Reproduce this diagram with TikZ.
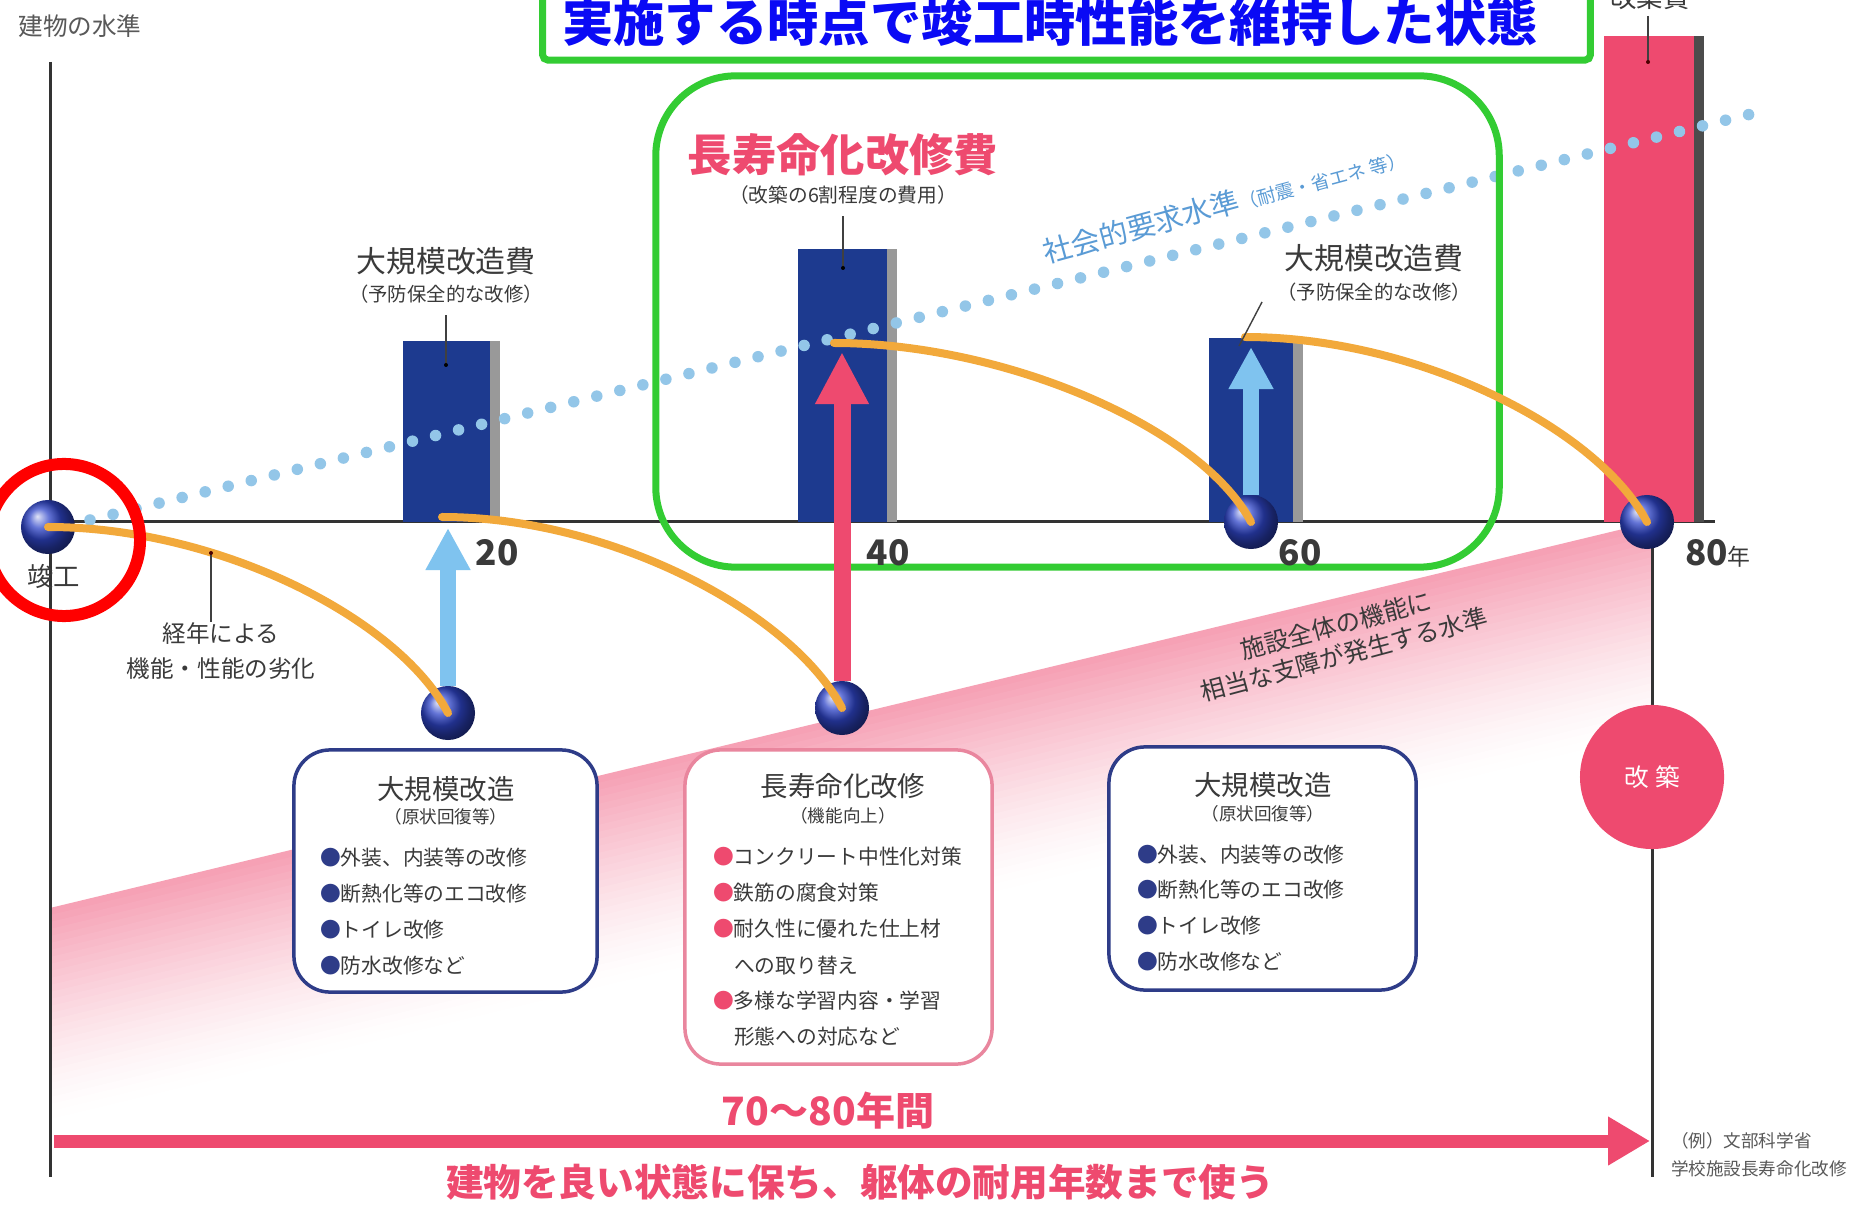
\documentclass[tikz,border=0pt]{standalone}
\usepackage{fontspec}
\setmainfont{Noto Sans CJK JP}
\usetikzlibrary{arrows.meta,shadings}
\definecolor{navy}{HTML}{1D3A8F}
\definecolor{boxnavy}{HTML}{2E3C88}
\definecolor{crimson}{HTML}{EE4A6F}
\definecolor{boxpink}{HTML}{E9869E}
\definecolor{lblue}{HTML}{7FC3EF}
\definecolor{curveor}{HTML}{F2A93B}
\definecolor{dotblue}{HTML}{93C6E8}
\definecolor{socblue}{HTML}{5A9BD5}
\definecolor{grn}{HTML}{33CC33}
\definecolor{txtgray}{HTML}{3A3A3A}
\definecolor{wedge}{HTML}{F27C98}
\definecolor{titleblue}{HTML}{0A0AF5}
\definecolor{ballblue}{HTML}{2F45C8}
\newcommand\fsz[2]{\fontsize{#1}{#2}\selectfont}
\newcommand\bn{\textcolor{boxnavy}{●}}
\newcommand\bp{\textcolor{crimson}{●}}
\begin{document}
\begin{tikzpicture}[x=0.01cm,y=-0.01cm,
  every node/.style={inner sep=0pt,outer sep=0pt},
  bar/.style 2 args={anchor=south west,minimum width=#1,minimum height=#2},
  sphere/.style={circle,minimum size=0.54cm,ball color=ballblue},
  degr/.style={draw=curveor,line width=0.08cm,line cap=round},
  upblue/.style={draw=lblue,line width=0.16cm,-{Triangle[width=0.42cm,length=0.42cm]}},
  upred/.style={draw=crimson,line width=0.17cm,-{Triangle[width=0.5cm,length=0.52cm]}},
  leader/.style={draw=black!75,line width=0.4pt},
  infobox/.style={draw=#1,line width=0.035cm,rounded corners=0.36cm,fill=white},
  boxline/.style={anchor=west,text=txtgray,font=\fsz{5.9}{7}},
  boxttl/.style={text=txtgray,font=\fsz{7.8}{9}},
  boxsub/.style={text=txtgray,font=\fsz{5}{6}},
  axisline/.style={draw=black!80,line width=0.03cm},
  shadowstrip/.style={fill=black!40},
]
\useasboundingbox (0,0) rectangle (1874,1210);
\fill[white] (0,0) rectangle (1874,1210);

% pink wedge (level of serious trouble)
\foreach \i in {0,...,29}{
  \pgfmathsetmacro\da{\i*7}
  \pgfmathsetmacro\db{\i*7+7.6}
  \pgfmathsetmacro\pc{72*(1-\i/30)^1.4}
  \fill[wedge!\pc!white] (50,908+\da) -- (1652,522+\da) -- (1652,522+\db) -- (50,908+\db) -- cycle;
}

% axes
\coordinate (Ytop) at (50,62);
\coordinate (Ybot) at (50,1177);
\coordinate (O) at (50,522);
\coordinate (Xend) at (1715,522);
\coordinate (Rtop) at (1652,522);
\coordinate (Rbot) at (1652,1177);
\draw[axisline] (Ytop) -- (Ybot);
\draw[axisline] (O) -- (Xend);
\draw[axisline] (Rtop) -- (Rbot);

% bars
\node[bar={0.87cm}{1.81cm},fill=navy] (bar1) at (403,522) {};
\fill[shadowstrip] (bar1.south east) rectangle ([xshift=0.1cm]bar1.north east);
\node[bar={0.89cm}{2.73cm},fill=navy] (bar2) at (798,522) {};
\fill[shadowstrip] (bar2.south east) rectangle ([xshift=0.1cm]bar2.north east);
\node[bar={0.84cm}{1.84cm},fill=navy] (bar3) at (1209,522) {};
\fill[shadowstrip] (bar3.south east) rectangle ([xshift=0.1cm]bar3.north east);
\node[bar={0.90cm}{4.86cm},fill=crimson] (bar4) at (1604,522) {};
\fill[fill=black!70] (bar4.south east) rectangle ([xshift=0.1cm]bar4.north east);

% social requirement dotted line
\coordinate (soc0) at (90,520);
\coordinate (soc1) at (1751,114);
\draw[dotblue,line width=0.115cm,line cap=round,dash pattern=on 0pt off 0.237cm] (soc0) -- (soc1);
\node[text=socblue,rotate=15.2] (soclbl) at (1224,204)
  {{\fsz{8.2}{9}社会的要求水準}{\fsz{5.3}{6}（耐震・省エネ 等）}};

% green frames
\node[draw=grn,line width=0.07cm,rounded corners=0.8cm,minimum width=8.43cm,minimum height=4.91cm] (focus) at (1077.5,321.5) {};
\node[draw=grn,line width=0.07cm,rounded corners=0.05cm,fill=white,minimum width=10.47cm,minimum height=0.70cm] (titlebox) at (1066.5,25) {};
\node[text=titleblue,font=\fsz{14.6}{15}\bfseries] (title) at (1050,22) {実施する時点で竣工時性能を維持した状態};

% spheres
\node[sphere] (s0) at (48,527) {};
\node[sphere] (s20) at (448,713) {};
\node[sphere] (s40) at (842,708) {};
\node[sphere] (s60) at (1251,522) {};
\node[sphere] (s80) at (1647,522) {};

% arrows
\coordinate (tip20) at (448,528);
\coordinate (tip40) at (842,352);
\coordinate (tip60) at (1251,347);
\draw[upblue] (s20.north) -- (tip20);
\draw[upred] (s40.north) -- (tip40);
\draw[upblue] (s60.north) -- (tip60);

% deterioration curves
\coordinate (c2s) at (442,517);
\coordinate (c3s) at (834,343);
\coordinate (c4s) at (1245,337);
\draw[degr] (s0.center) .. controls +(170,0) and +(-50,-95) .. (s20.center);
\draw[degr] (c2s) .. controls +(170,0) and +(-50,-95) .. (s40.center);
\draw[degr] (c3s) .. controls +(170,0) and +(-50,-95) .. (s60.center);
\draw[degr] (c4s) .. controls +(170,0) and +(-50,-95) .. (s80.center);

% red circle
\node[draw=red,line width=0.12cm,circle,minimum size=1.52cm] (ring) at (64,540) {};

% labels
\node[text=black!65,font=\fsz{7}{8}] (ylabel) at (80,26) {建物の水準};
\node[text=txtgray,font=\fsz{7.5}{8}] (shunko) at (54,577) {竣工};
\node[text=txtgray,font=\fsz{10}{10}\bfseries] (t20) at (497,553) {20};
\node[text=txtgray,font=\fsz{10}{10}\bfseries] (t40) at (888,553) {40};
\node[text=txtgray,font=\fsz{10}{10}\bfseries] (t60) at (1300,553) {60};
\node[text=txtgray,anchor=west] (t80) at (1685,553) {{\fsz{10}{10}\bfseries 80}{\fsz{6.5}{7}年}};

% bar 1 label
\node[text=txtgray,font=\fsz{8.5}{9}] (l1a) at (446,261) {大規模改造費};
\node[text=txtgray,font=\fsz{5.5}{6}] (l1b) at (446,294) {（予防保全的な改修）};
\coordinate (d1) at (446,365);
\draw[leader] ([yshift=-0.12cm]l1b.south) -- (d1);
\fill[black] (d1) circle[radius=0.02cm];

% bar 2 label
\node[text=crimson,font=\fsz{12.6}{13}\bfseries] (l2a) at (843,155) {長寿命化改修費};
\node[text=txtgray,font=\fsz{5.6}{6}] (l2b) at (843,195) {（改築の6割程度の費用）};
\coordinate (d2) at (843,268);
\draw[leader] ([yshift=-0.12cm]l2b.south) -- (d2);
\fill[black] (d2) circle[radius=0.02cm];

% bar 3 label
\node[text=txtgray,font=\fsz{8.5}{9}] (l3a) at (1374,258) {大規模改造費};
\node[text=txtgray,font=\fsz{5.5}{6}] (l3b) at (1374,292) {（予防保全的な改修）};
\coordinate (d3a) at (1262,302);
\coordinate (d3b) at (1239,346);
\draw[leader] (d3a) -- (d3b);

% red bar label
\node[text=txtgray,font=\fsz{7.5}{8}] (l4) at (1650,-3) {改築費};
\coordinate (d4a) at (1648,16);
\coordinate (d4) at (1648,62);
\draw[leader] (d4a) -- (d4);
\fill[black!70!red] (d4) circle[radius=0.02cm];

% deterioration label
\coordinate (d5a) at (211,553);
\coordinate (d5) at (211,622);
\draw[leader] (d5a) -- (d5);
\fill[black!70!red] (d5a) circle[radius=0.02cm];
\node[text=txtgray,font=\fsz{6.7}{9.7},align=center] (l5) at (221,651) {経年による\\機能・性能の劣化};

% facility level label
\node[text=txtgray,font=\fsz{7}{8.6},align=center,rotate=15] (wedgelbl) at (1340,640) {施設全体の機能に\\相当な支障が発生する水準};

% info boxes
\node[infobox=boxnavy,minimum width=3.03cm,minimum height=2.42cm] (box1) at (445.5,871) {};
\node[boxttl] (box1t) at (446,789) {大規模改造};
\node[boxsub] (box1s) at (446,817) {（原状回復等）};
\node[boxline] (box1a) at (320,858) {\bn 外装、内装等の改修};
\node[boxline] (box1b) at (320,894) {\bn 断熱化等のエコ改修};
\node[boxline] (box1c) at (320,930) {\bn トイレ改修};
\node[boxline] (box1d) at (320,966) {\bn 防水改修など};

\node[infobox=boxpink,minimum width=3.07cm,minimum height=3.14cm] (box2) at (838.5,907) {};
\node[boxttl] (box2t) at (843,786) {長寿命化改修};
\node[boxsub] (box2s) at (843,816) {（機能向上）};
\node[boxline] (box2a) at (713,857) {\bp コンクリート中性化対策};
\node[boxline] (box2b) at (713,893) {\bp 鉄筋の腐食対策};
\node[boxline] (box2c) at (713,929) {\bp 耐久性に優れた仕上材};
\node[boxline] (box2d) at (734,966) {への取り替え};
\node[boxline] (box2e) at (713,1001) {\bp 多様な学習内容・学習};
\node[boxline] (box2f) at (734,1037) {形態への対応など};

\node[infobox=boxnavy,minimum width=3.07cm,minimum height=2.43cm] (box3) at (1262.5,868.5) {};
\node[boxttl] (box3t) at (1263,785) {大規模改造};
\node[boxsub] (box3s) at (1263,814) {（原状回復等）};
\node[boxline] (box3a) at (1137,855) {\bn 外装、内装等の改修};
\node[boxline] (box3b) at (1137,890) {\bn 断熱化等のエコ改修};
\node[boxline] (box3c) at (1137,926) {\bn トイレ改修};
\node[boxline] (box3d) at (1137,962) {\bn 防水改修など};

% rebuild circle
\node[circle,fill=crimson,minimum size=1.44cm,text=white,font=\fsz{7}{8}] (rebuild) at (1652,777) {改\hspace{0.25em}築};

% bottom arrow and texts
\coordinate (barr0) at (54,1141);
\coordinate (barr1) at (1650,1141);
\draw[draw=crimson,line width=0.13cm,-{Triangle[width=0.46cm,length=0.42cm]}] (barr0) -- (barr1);
\node[text=crimson,font=\fsz{11.1}{12}\bfseries] (period) at (828,1111) {70〜80年間};
\node[text=crimson,font=\fsz{10.7}{11}\bfseries] (motto) at (860,1182) {建物を良い状態に保ち、躯体の耐用年数まで使う};
\node[text=black!65,font=\fsz{5}{8},align=left,anchor=west] (note) at (1671,1155) {（例）文部科学省\\学校施設長寿命化改修};
\end{tikzpicture}
\end{document}
